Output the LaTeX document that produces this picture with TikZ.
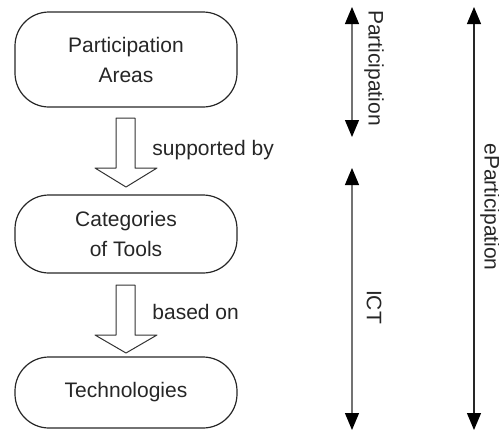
\documentclass[tikz,border=0pt]{standalone}
\usepackage{fontspec}
\setmainfont{Liberation Sans}
\usepackage{tikz}
\usetikzlibrary{arrows.meta}

\begin{document}
\begin{tikzpicture}[line cap=round,line join=round,x=0.5pt,y=-0.5pt,
  box/.style={draw=black!85,line width=0.6pt,rounded corners=17pt,minimum width=111pt,
    align=center,text=black!85,inner sep=0pt,font=\fontsize{10.5}{15}\selectfont},
  lbl/.style={text=black!85,inner sep=0pt,font=\fontsize{10.5}{15}\selectfont},
  span/.style={line width=0.6pt,{Triangle[length=8.5pt,width=7pt,black]}-{Triangle[length=8.5pt,width=7pt,black]}},
  block/.style={draw=black!80,line width=0.5pt,fill=white}]
\useasboundingbox (0,0) rectangle (499,435);
% the three levels
\node[box,minimum height=47.5pt] (partArea) at (126,59.5) {Participation\\Areas};
\node[box,minimum height=39pt] (toolCat) at (126,234) {Categories\\of Tools};
\node[box,minimum height=35.5pt] (techno) at (126,392.5) {Technologies};
% block arrows
\draw[block] (116,118) -- (135,118) -- (135,168) -- (157,168) -- (126,187) -- (95,168) -- (116,168) -- cycle;
\draw[block] (116,285) -- (135,285) -- (135,335) -- (157,335) -- (126,353) -- (95,335) -- (116,335) -- cycle;
\node[lbl,anchor=west] (lblSupported) at (152,150) {supported by};
\node[lbl,anchor=west] (lblBased) at (152,312) {based on};
% spans on the right
\coordinate (partTop) at (352,7);
\coordinate (partBot) at (352,137);
\coordinate (ictTop) at (352,168);
\coordinate (ictBot) at (352,430);
\coordinate (epTop) at (474,7);
\coordinate (epBot) at (474,430);
\draw[span,draw=black!55] (partTop) -- (partBot);
\draw[span,draw=black!55] (ictTop) -- (ictBot);
\draw[span,draw=black!85] (epTop) -- (epBot);
\node[lbl,rotate=-90] (lblPart) at (374,68) {Participation};
\node[lbl,rotate=-90] (lblIct) at (374,307) {ICT};
\node[lbl,rotate=-90] (lblEpart) at (490,207) {eParticipation};
\end{tikzpicture}
\end{document}
